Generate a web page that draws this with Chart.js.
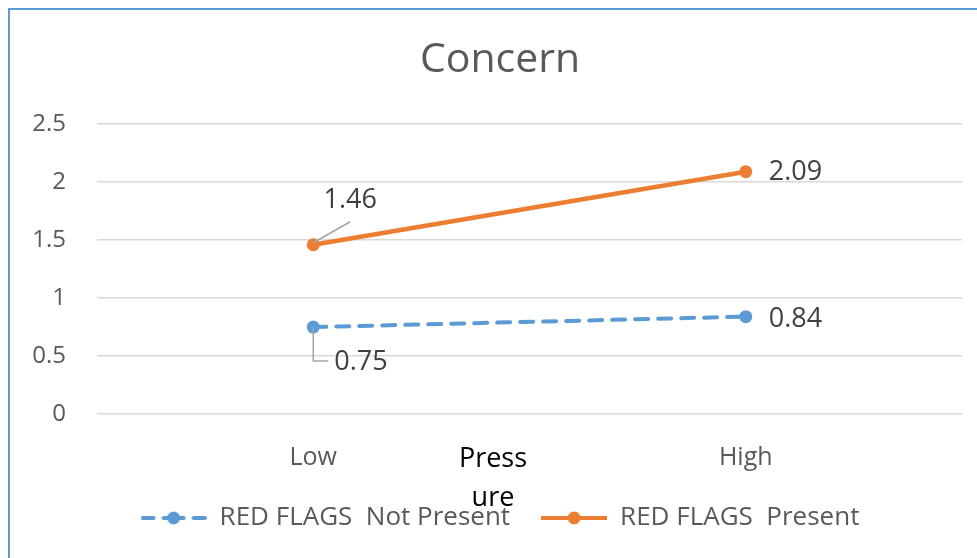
<!DOCTYPE html>
<html>
<head>
<meta charset="utf-8">
<script src="https://cdn.jsdelivr.net/npm/chart.js@4/dist/chart.umd.min.js"></script>
<style>
  html, body { margin: 0; padding: 0; background: #fff; overflow: hidden; }
  #wrap { width: 1000px; height: 558px; }
</style>
</head>
<body>
<div id="wrap"><canvas id="chart" width="1000" height="558"></canvas></div>
<script>
// Concern by pressure level, split on whether red flags are present
const categories = ['Low', 'High']
const notPresentValues = [0.75, 0.84]
const presentValues = [1.46, 2.09]
const seriesNames = ['RED FLAGS  Not Present', 'RED FLAGS  Present']
const axisTitleLines = ['Press', 'ure']

const BLUE = '#5B9BD5'
const ORANGE = '#ED7D31'
const TEXT = '#595959'
const FONT = "'Open Sans', Lato, sans-serif"

// legend marker: short line with a dot in the middle
function legendMarker(color, dashed) {
  const c = document.createElement('canvas')
  c.width = 66
  c.height = 16
  const g = c.getContext('2d')
  g.strokeStyle = color
  g.fillStyle = color
  g.lineWidth = 4
  g.lineCap = dashed ? 'round' : 'butt'
  g.beginPath()
  if (dashed) {
    // dash, dash through the dot, dash
    g.moveTo(2, 8); g.lineTo(13, 8)
    g.moveTo(23, 8); g.lineTo(43, 8)
    g.moveTo(53, 8); g.lineTo(64, 8)
  } else {
    g.moveTo(0, 8); g.lineTo(66, 8)
  }
  g.stroke()
  g.beginPath()
  g.arc(33, 8, 6.5, 0, Math.PI * 2)
  g.fill()
  return c
}

// chart frame, axis title and value labels with leader lines
const extras = {
  id: 'extras',
  beforeDraw(chart) {
    const ctx = chart.ctx
    ctx.save()
    ctx.strokeStyle = BLUE
    ctx.lineWidth = 2
    ctx.beginPath()
    ctx.moveTo(9, 600)
    ctx.lineTo(9, 9)
    ctx.lineTo(1000, 9)
    ctx.stroke()
    ctx.restore()
  },
  afterDatasetsDraw(chart) {
    const ctx = chart.ctx
    const area = chart.chartArea
    ctx.save()

    // axis title, wrapped like the original
    ctx.fillStyle = '#000'
    ctx.font = `27px ${FONT}`
    ctx.textAlign = 'center'
    ctx.textBaseline = 'middle'
    axisTitleLines.forEach((t, i) => ctx.fillText(t, 493, area.bottom + 45 + i * 39))

    const blue = chart.getDatasetMeta(0).data
    const orange = chart.getDatasetMeta(1).data
    ctx.font = `27px ${FONT}`
    ctx.fillStyle = '#404040'
    ctx.strokeStyle = '#A6A6A6'
    ctx.lineWidth = 1.5

    // Low / present: label up-right with a slanted leader
    let p = orange[0]
    ctx.beginPath()
    ctx.moveTo(p.x, p.y - 2)
    ctx.lineTo(p.x + 37, p.y - 23)
    ctx.stroke()
    ctx.textAlign = 'center'
    ctx.fillText(presentValues[0].toFixed(2), p.x + 37, p.y - 44)

    // Low / not present: label down-right with an elbow leader
    p = blue[0]
    ctx.beginPath()
    ctx.moveTo(p.x, p.y)
    ctx.lineTo(p.x, p.y + 34)
    ctx.lineTo(p.x + 15, p.y + 34)
    ctx.stroke()
    ctx.textAlign = 'left'
    ctx.fillText(notPresentValues[0].toFixed(2), p.x + 21, p.y + 35)

    // High points: label to the right
    p = orange[1]
    ctx.fillText(presentValues[1].toFixed(2), p.x + 23, p.y + 1)
    p = blue[1]
    ctx.fillText(notPresentValues[1].toFixed(2), p.x + 23, p.y + 3)

    ctx.restore()
  }
}

new Chart(document.getElementById('chart'), {
  type: 'line',
  data: {
    labels: categories,
    datasets: [
      {
        label: seriesNames[0],
        data: notPresentValues,
        borderColor: BLUE,
        backgroundColor: BLUE,
        borderWidth: 4,
        borderDash: [13, 10],
        borderCapStyle: 'round',
        pointRadius: 6.5,
        pointHoverRadius: 6.5,
        pointBorderWidth: 0,
        tension: 0
      },
      {
        label: seriesNames[1],
        data: presentValues,
        borderColor: ORANGE,
        backgroundColor: ORANGE,
        borderWidth: 4.5,
        pointRadius: 6.5,
        pointHoverRadius: 6.5,
        pointBorderWidth: 0,
        tension: 0
      }
    ]
  },
  options: {
    responsive: false,
    animation: false,
    layout: { padding: { left: 0, right: 0, top: 0, bottom: 17 } },
    plugins: {
      title: {
        display: true,
        text: 'Concern',
        color: TEXT,
        font: { family: FONT, size: 41, weight: 'normal' },
        padding: { top: 36, bottom: 39 }
      },
      legend: {
        position: 'bottom',
        labels: {
          color: TEXT,
          font: { family: FONT, size: 26 },
          usePointStyle: true,
          pointStyleWidth: 66,
          padding: 31,
          generateLabels: (chart) => chart.data.datasets.map((ds, i) => ({
            text: ds.label,
            fontColor: TEXT,
            pointStyle: legendMarker(ds.borderColor, i === 0),
            datasetIndex: i,
            lineWidth: 0,
            strokeStyle: 'transparent',
            fillStyle: 'transparent'
          }))
        }
      },
      tooltip: { enabled: false }
    },
    scales: {
      x: {
        offset: true,
        grid: { display: false, drawTicks: false },
        border: { display: false },
        ticks: {
          color: TEXT,
          font: { family: FONT, size: 25 },
          padding: 29
        },
        afterFit: (scale) => { scale.height = 60 }
      },
      y: {
        min: 0,
        max: 2.5,
        grid: { color: '#D9D9D9', lineWidth: 1.5, drawTicks: false },
        border: { display: false },
        ticks: {
          stepSize: 0.5,
          color: TEXT,
          font: { family: FONT, size: 24 },
          padding: 31,
          callback: (value) => value.toString()
        },
        afterFit: (scale) => { scale.width = 97 }
      },
      // empty right-hand axis that only reserves the margin beside the plot
      yRight: {
        position: 'right',
        grid: { display: false },
        border: { display: false },
        ticks: { display: false },
        afterFit: (scale) => { scale.width = 38 }
      }
    }
  },
  plugins: [extras]
})
</script>
</body>
</html>
